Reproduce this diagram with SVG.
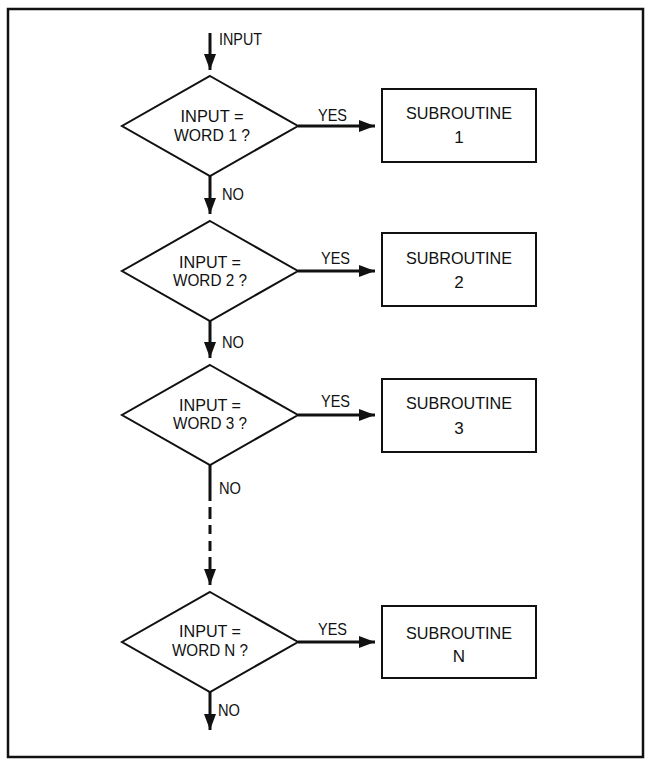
<svg xmlns="http://www.w3.org/2000/svg" width="652" height="767" viewBox="0 0 652 767">
<style>
.frame{fill:none;stroke:#111;stroke-width:2.5}
.shape{fill:#fff;stroke:#111;stroke-width:2}
.conn{fill:none;stroke:#111;stroke-width:3}
text{font-family:"Liberation Sans",Arial,sans-serif;font-size:17px;fill:#111}
.c{text-anchor:middle}
</style>
<defs>
<marker id="ah" viewBox="0 0 16 12" refX="16" refY="6" markerWidth="16" markerHeight="12" markerUnits="userSpaceOnUse" orient="auto">
<path d="M0,0 L16,6 L0,12 Z" fill="#111"/>
</marker>
</defs>
<rect class="frame" x="8" y="9" width="635" height="748"/>

<g id="connectors">
<line class="conn" x1="210" y1="33" x2="210" y2="70" marker-end="url(#ah)"/>
<line class="conn" x1="210" y1="176" x2="210" y2="214" marker-end="url(#ah)"/>
<line class="conn" x1="210" y1="321" x2="210" y2="358" marker-end="url(#ah)"/>
<line class="conn" x1="210" y1="465" x2="210" y2="501"/>
<line class="conn" x1="210" y1="507" x2="210" y2="519"/>
<line class="conn" x1="210" y1="525" x2="210" y2="534"/>
<line class="conn" x1="210" y1="541" x2="210" y2="551"/>
<line class="conn" x1="210" y1="557" x2="210" y2="585" marker-end="url(#ah)"/>
<line class="conn" x1="210" y1="692" x2="210" y2="730" marker-end="url(#ah)"/>
<line class="conn" x1="298" y1="126" x2="375" y2="126" marker-end="url(#ah)"/>
<line class="conn" x1="298" y1="271" x2="375" y2="271" marker-end="url(#ah)"/>
<line class="conn" x1="298" y1="415" x2="375" y2="415" marker-end="url(#ah)"/>
<line class="conn" x1="298" y1="642" x2="375" y2="642" marker-end="url(#ah)"/>
<text x="219" y="45" textLength="43" lengthAdjust="spacingAndGlyphs">INPUT</text>
<text x="318" y="121" textLength="29" lengthAdjust="spacingAndGlyphs">YES</text>
<text x="321" y="264" textLength="29" lengthAdjust="spacingAndGlyphs">YES</text>
<text x="321" y="407" textLength="29" lengthAdjust="spacingAndGlyphs">YES</text>
<text x="318" y="635" textLength="29" lengthAdjust="spacingAndGlyphs">YES</text>
<text x="222" y="200" textLength="22" lengthAdjust="spacingAndGlyphs">NO</text>
<text x="222" y="348" textLength="22" lengthAdjust="spacingAndGlyphs">NO</text>
<text x="219" y="494" textLength="22" lengthAdjust="spacingAndGlyphs">NO</text>
<text x="218" y="716" textLength="22" lengthAdjust="spacingAndGlyphs">NO</text>
</g>

<g id="decision1">
<polygon class="shape" points="210,76 298,126 210,176 122,126"/>
<text class="c" x="212" y="122" textLength="63" lengthAdjust="spacingAndGlyphs">INPUT =</text>
<text class="c" x="212" y="141" textLength="76" lengthAdjust="spacingAndGlyphs">WORD 1 ?</text>
</g>
<g id="decision2">
<polygon class="shape" points="210,221 298,271 210,321 122,271"/>
<text class="c" x="210" y="268" textLength="62" lengthAdjust="spacingAndGlyphs">INPUT =</text>
<text class="c" x="210" y="286" textLength="74" lengthAdjust="spacingAndGlyphs">WORD 2 ?</text>
</g>
<g id="decision3">
<polygon class="shape" points="210,365 298,415 210,465 122,415"/>
<text class="c" x="210" y="411" textLength="62" lengthAdjust="spacingAndGlyphs">INPUT =</text>
<text class="c" x="210" y="429" textLength="74" lengthAdjust="spacingAndGlyphs">WORD 3 ?</text>
</g>
<g id="decisionN">
<polygon class="shape" points="210,592 298,642 210,692 122,642"/>
<text class="c" x="210" y="637" textLength="62" lengthAdjust="spacingAndGlyphs">INPUT =</text>
<text class="c" x="210" y="656" textLength="76" lengthAdjust="spacingAndGlyphs">WORD N ?</text>
</g>

<g id="sub1">
<rect class="shape" x="382" y="89" width="154" height="73"/>
<text class="c" x="459" y="119" textLength="106" lengthAdjust="spacingAndGlyphs">SUBROUTINE</text>
<text class="c" x="459" y="143">1</text>
</g>
<g id="sub2">
<rect class="shape" x="382" y="233" width="154" height="73"/>
<text class="c" x="459" y="264" textLength="106" lengthAdjust="spacingAndGlyphs">SUBROUTINE</text>
<text class="c" x="459" y="288">2</text>
</g>
<g id="sub3">
<rect class="shape" x="382" y="379" width="154" height="73"/>
<text class="c" x="459" y="409" textLength="106" lengthAdjust="spacingAndGlyphs">SUBROUTINE</text>
<text class="c" x="459" y="434">3</text>
</g>
<g id="subN">
<rect class="shape" x="382" y="606" width="154" height="72"/>
<text class="c" x="459" y="639" textLength="106" lengthAdjust="spacingAndGlyphs">SUBROUTINE</text>
<text class="c" x="459" y="662">N</text>
</g>
</svg>
